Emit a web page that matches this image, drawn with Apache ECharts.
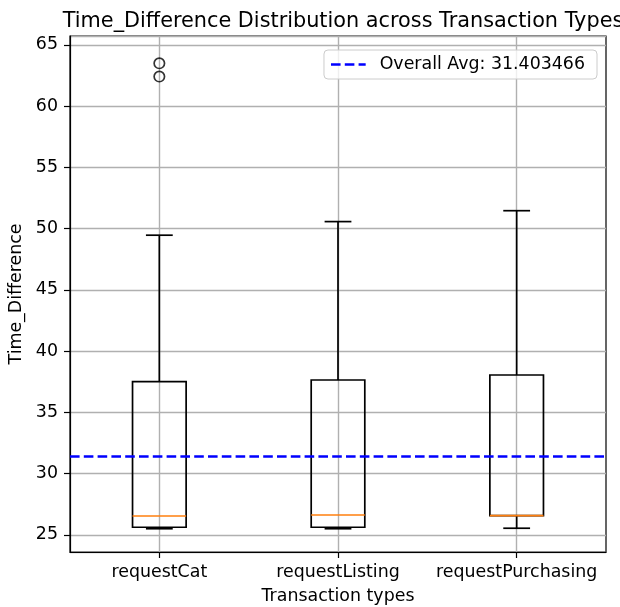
<!DOCTYPE html>
<html>
<head>
<meta charset="utf-8">
<script src="https://cdn.jsdelivr.net/npm/echarts@6/dist/echarts.min.js"></script>
<style>
  html, body { margin: 0; padding: 0; background: #fff; }
  #chart { width: 620px; height: 607px; }
</style>
</head>
<body>
<div id="chart"></div>
<script>
// Transaction types on the x axis
const categories = ['requestCat', 'requestListing', 'requestPurchasing'];
// Five-number summaries of Time_Difference per type
const whiskerLow  = [25.51, 25.51, 25.55];
const q1          = [25.63, 25.63, 26.58];
const median      = [26.55, 26.63, 26.58];
const q3          = [37.51, 37.65, 38.06];
const whiskerHigh = [49.47, 50.58, 51.47];
// Outliers: [category index, value]
const outliers = [[0, 63.5], [0, 62.42]];
// Mean over all transactions
const overallAvg = 31.403466;
const yTicks = [25, 30, 35, 40, 45, 50, 55, 60, 65];

const FONT = 'DejaVu Sans';
const FS = 17.4;      // tick / label font size
const LW = 1.7;       // box line width
const boxRows = categories.map((c, i) => [i, whiskerLow[i], q1[i], median[i], q3[i], whiskerHigh[i]]);

const chart = echarts.init(document.getElementById('chart'), null, { renderer: 'canvas' });

function renderBox(params, api) {
  const idx = api.value(0);
  const band = api.size([1, 0])[0];
  const bw = band * 0.3;
  const cap = bw / 2;
  const x = api.coord([idx, 0])[0];
  const y = v => api.coord([idx, v])[1];
  const yLow = y(api.value(1)), yQ1 = y(api.value(2)), yMed = y(api.value(3));
  const yQ3 = y(api.value(4)), yHigh = y(api.value(5));
  const black = { stroke: '#000', lineWidth: LW, fill: null };
  return {
    type: 'group',
    children: [
      { type: 'line', shape: { x1: x, y1: yQ1, x2: x, y2: yLow }, style: black },
      { type: 'line', shape: { x1: x, y1: yQ3, x2: x, y2: yHigh }, style: black },
      { type: 'line', shape: { x1: x - cap / 2, y1: yLow, x2: x + cap / 2, y2: yLow }, style: black },
      { type: 'line', shape: { x1: x - cap / 2, y1: yHigh, x2: x + cap / 2, y2: yHigh }, style: black },
      { type: 'rect', shape: { x: x - bw / 2, y: yQ3, width: bw, height: yQ1 - yQ3 }, style: { stroke: '#000', lineWidth: LW, fill: 'none' } },
      { type: 'line', shape: { x1: x - bw / 2, y1: yMed, x2: x + bw / 2, y2: yMed }, style: { stroke: '#ff7f0e', lineWidth: LW } }
    ]
  };
}

// dashed handle for the legend entry
const dashIcon = 'path://M0,0H9.6V2.6H0Z M13.8,0H23.4V2.6H13.8Z M27.6,0H34.7V2.6H27.6Z';

const option = {
  animation: false,
  backgroundColor: '#fff',
  textStyle: { fontFamily: FONT },
  title: {
    text: 'Time_Difference Distribution across Transaction Types',
    left: 338,
    top: 6,
    textAlign: 'center',
    textStyle: { fontFamily: FONT, fontSize: 20.8, fontWeight: 'normal', color: '#000' }
  },
  legend: {
    right: 23,
    top: 50,
    orient: 'vertical',
    backgroundColor: 'rgba(255,255,255,0.8)',
    borderColor: '#cccccc',
    borderWidth: 1,
    borderRadius: 4,
    padding: [6, 12, 6, 7],
    itemWidth: 34.7,
    itemHeight: 2.6,
    symbolKeepAspect: false,
    textStyle: { fontFamily: FONT, fontSize: FS, color: '#000', padding: [0, 0, 0, 9] },
    data: [{ name: 'Overall Avg: 31.403466', icon: dashIcon, itemStyle: { color: '#0000ff' } }]
  },
  grid: {
    left: 70, right: 14, top: 36, bottom: 55,
    outerBoundsMode: 'none',
    containLabel: false,
    show: true, borderColor: '#000', borderWidth: 1.2, backgroundColor: 'transparent'
  },
  xAxis: {
    type: 'category',
    data: categories,
    boundaryGap: true,
    name: 'Transaction types',
    nameLocation: 'middle',
    nameGap: 36,
    nameTextStyle: { fontFamily: FONT, fontSize: FS, color: '#000' },
    axisLine: { show: true, lineStyle: { color: '#000', width: 1.2 } },
    axisTick: { show: true, alignWithLabel: true, length: 6, lineStyle: { color: '#000', width: 1.2 } },
    axisLabel: { fontFamily: FONT, fontSize: FS, color: '#000', margin: 12, interval: 0, hideOverlap: false },
    splitLine: { show: false }
  },
  yAxis: {
    type: 'value',
    min: 23.61,
    max: 65.73,
    splitNumber: 8,
    name: 'Time_Difference',
    nameLocation: 'middle',
    nameGap: 42,
    nameTextStyle: { fontFamily: FONT, fontSize: FS, color: '#000' },
    axisLine: { show: true, lineStyle: { color: '#000', width: 1.2 } },
    axisTick: { show: true, length: 6, lineStyle: { color: '#000', width: 1.2 } },
    axisLabel: {
      fontFamily: FONT, fontSize: FS, color: '#000', margin: 12,
      showMinLabel: false, showMaxLabel: false,
      formatter: v => (yTicks.some(t => Math.abs(t - v) < 1e-6) ? String(v) : '')
    },
    splitLine: { show: true, lineStyle: { color: '#b0b0b0', width: 1.4 } }
  },
  series: [
    {
      // vertical grid lines through each category
      type: 'line',
      name: 'grid',
      data: [],
      silent: true,
      z: 1,
      markLine: {
        z: 1,
        silent: true,
        symbol: 'none',
        label: { show: false },
        lineStyle: { color: '#b0b0b0', width: 1.4, type: 'solid' },
        data: categories.map(c => ({ xAxis: c }))
      }
    },
    {
      type: 'custom',
      name: 'boxes',
      renderItem: renderBox,
      data: boxRows,
      encode: { x: 0, y: [1, 2, 3, 4, 5] },
      z: 3
    },
    {
      type: 'scatter',
      name: 'outliers',
      data: outliers,
      symbol: 'circle',
      symbolSize: 10.4,
      itemStyle: { color: 'rgba(0,0,0,0)', borderColor: '#000', borderWidth: 1.7 },
      z: 4
    },
    {
      type: 'line',
      name: 'Overall Avg: 31.403466',
      data: [],
      symbol: 'none',
      color: '#0000ff',
      lineStyle: { color: '#0000ff', width: 2.6, type: [9.6, 4.2] },
      z: 5,
      markLine: {
        z: 5,
        silent: true,
        symbol: 'none',
        label: { show: false },
        lineStyle: { color: '#0000ff', width: 2.6, type: [9.6, 4.2] },
        data: [{ yAxis: overallAvg }]
      }
    }
  ]
};

chart.setOption(option);
</script>
</body>
</html>
